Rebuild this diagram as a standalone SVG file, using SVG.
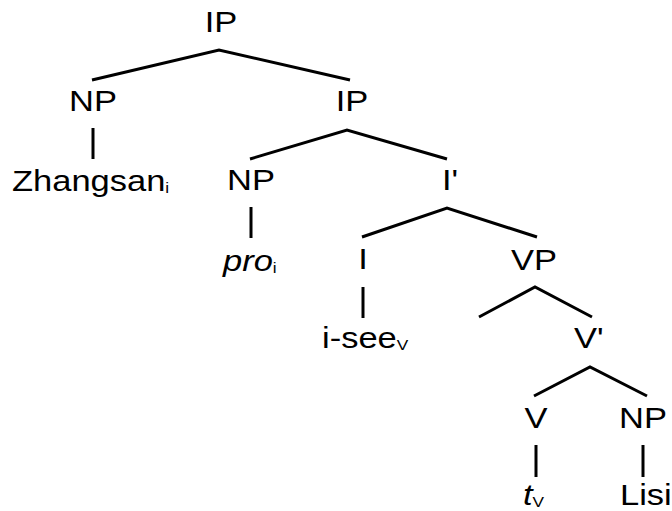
<svg xmlns="http://www.w3.org/2000/svg" width="672" height="511" viewBox="0 0 672 511">
<style>
text{font-family:"Liberation Sans",Arial,sans-serif;font-size:30px;fill:#000}
.sub{font-size:15px}
.it{font-style:italic}
#edges line,#edges polyline{stroke:#000;stroke-width:3;fill:none;stroke-linecap:butt;stroke-linejoin:miter}
</style>
<rect width="672" height="511" fill="#fff"/>
<g id="edges">
<polyline points="92,80 219,50 350,80"/>
<polyline points="250,159 347,130 447,159"/>
<polyline points="362,237 447,208 537,237"/>
<polyline points="479,317 535,287 592,317"/>
<polyline points="534,396 590,367 647,396"/>
<line x1="93" y1="128" x2="93" y2="159"/>
<line x1="251" y1="207" x2="251" y2="238"/>
<line x1="363" y1="287" x2="363" y2="318"/>
<line x1="536" y1="445" x2="536" y2="477"/>
<line x1="643" y1="445" x2="643" y2="477"/>
</g>
<g id="n-IP1"><text transform="translate(221,32) scale(1.15,1)" text-anchor="middle">IP</text></g>
<g id="n-NP1"><text transform="translate(93,111) scale(1.15,1)" text-anchor="middle">NP</text></g>
<g id="n-IP2"><text transform="translate(352,111) scale(1.15,1)" text-anchor="middle">IP</text></g>
<g id="n-Zhangsan"><text transform="translate(12,191) scale(1.15,1)">Zhangsan<tspan class="sub" dy="2">i</tspan></text></g>
<g id="n-NP2"><text transform="translate(251,190) scale(1.15,1)" text-anchor="middle">NP</text></g>
<g id="n-Ibar"><text transform="translate(442,190) scale(1.15,1)">I'</text></g>
<g id="n-pro"><text transform="translate(223,271) scale(1.15,1)"><tspan class="it">pro</tspan><tspan class="sub" dy="2">i</tspan></text></g>
<g id="n-I"><text transform="translate(363,269) scale(1.15,1)" text-anchor="middle">I</text></g>
<g id="n-VP"><text transform="translate(534,270) scale(1.15,1)" text-anchor="middle">VP</text></g>
<g id="n-isee"><text transform="translate(322,348) scale(1.15,1)">i-see<tspan class="sub" dy="2">V</tspan></text></g>
<g id="n-Vbar"><text transform="translate(574,348) scale(1.15,1)">V'</text></g>
<g id="n-V"><text transform="translate(536,428) scale(1.15,1)" text-anchor="middle">V</text></g>
<g id="n-NP3"><text transform="translate(643,428) scale(1.15,1)" text-anchor="middle">NP</text></g>
<g id="n-t"><text transform="translate(523,505) scale(1.15,1)"><tspan class="it">t</tspan><tspan class="sub" dy="2">V</tspan></text></g>
<g id="n-Lisi"><text transform="translate(620,505) scale(1.15,1)">Lisi</text></g>
</svg>
